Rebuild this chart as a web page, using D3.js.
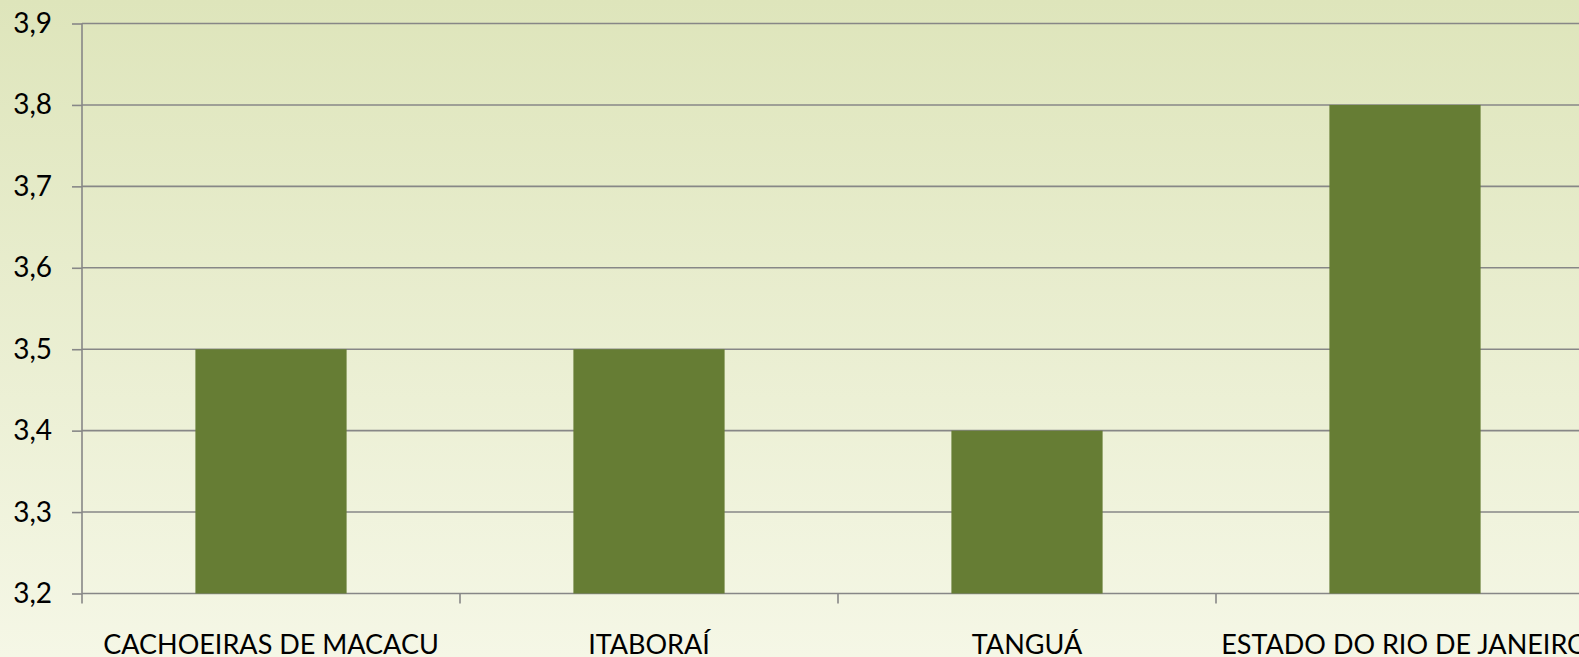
<!DOCTYPE html>
<html>
<head>
<meta charset="utf-8">
<script src="https://cdn.jsdelivr.net/npm/d3@7"></script>
<style>
  html, body { margin: 0; padding: 0; overflow: hidden; }
  svg { display: block; }
  text { font-family: Lato, "Open Sans", sans-serif; fill: #000; }
</style>
</head>
<body>
<svg id="svg1" width="1579" height="657"></svg>
<script>
const categories = ['CACHOEIRAS DE MACACU', 'ITABORAÍ', 'TANGUÁ', 'ESTADO DO RIO DE JANEIRO'];
const values = [3.5, 3.5, 3.4, 3.8];
const yTicks = [3.2, 3.3, 3.4, 3.5, 3.6, 3.7, 3.8, 3.9];

const svg = d3.select('#svg1');
const W = 1579, H = 657;

// background gradient
const defs = svg.append('defs');
const grad = defs.append('linearGradient')
    .attr('id', 'bg')
    .attr('x1', 0).attr('y1', 0).attr('x2', 0).attr('y2', 1);
grad.append('stop').attr('offset', '0%').attr('stop-color', '#dee5bb');
grad.append('stop').attr('offset', '100%').attr('stop-color', '#f5f7e6');
svg.append('rect').attr('width', W).attr('height', H).attr('fill', 'url(#bg)');

const plotLeft = 82, plotTop = 23.5, plotBottom = 593.5, step = 378;
const plotRight = plotLeft + step * categories.length; // plot runs past the window edge

const y = d3.scaleLinear().domain([3.2, 3.9]).range([plotBottom, plotTop]);
const x = d3.scaleBand().domain(categories).range([plotLeft, plotRight])
    .paddingInner(0.6).paddingOuter(0.3);
const xTicks = d3.scaleBand().domain(categories).range([plotLeft, plotRight]);

// y axis ticks + labels
const yAxis = svg.append('g')
    .attr('transform', `translate(${plotLeft},0)`)
    .call(d3.axisLeft(y).tickValues(yTicks).tickSize(10).tickPadding(20)
      .tickFormat(d => d3.format('.1f')(d).replace('.', ',')));
yAxis.select('.domain').remove();
yAxis.selectAll('.tick line').attr('stroke', '#878787').attr('stroke-width', 1.6);
yAxis.selectAll('.tick text').attr('font-size', 28).style('font-family', 'Lato, sans-serif');

// gridlines
svg.append('g').selectAll('line').data(yTicks).join('line')
    .attr('x1', plotLeft).attr('x2', W)
    .attr('y1', d => y(d)).attr('y2', d => y(d))
    .attr('stroke', '#878787').attr('stroke-width', 1.6);

// vertical axis line
svg.append('line')
    .attr('x1', plotLeft).attr('x2', plotLeft).attr('y1', plotTop).attr('y2', plotBottom)
    .attr('stroke', '#878787').attr('stroke-width', 1.6);

// bars
svg.append('g').selectAll('rect').data(values).join('rect')
    .attr('x', (d, i) => x(categories[i]))
    .attr('width', x.bandwidth())
    .attr('y', d => y(d))
    .attr('height', d => y(3.2) - y(d))
    .attr('fill', '#667d34');

// category ticks
svg.append('g').selectAll('line').data(categories).join('line')
    .attr('x1', d => xTicks(d)).attr('x2', d => xTicks(d))
    .attr('y1', plotBottom).attr('y2', plotBottom + 10)
    .attr('stroke', '#878787').attr('stroke-width', 1.6);

// category labels
svg.append('g').selectAll('text').data(categories).join('text')
    .attr('x', d => xTicks(d) + xTicks.bandwidth() / 2)
    .attr('y', 654)
    .attr('text-anchor', 'middle')
    .attr('font-size', 27)
    .text(d => d);
</script>
</body>
</html>
